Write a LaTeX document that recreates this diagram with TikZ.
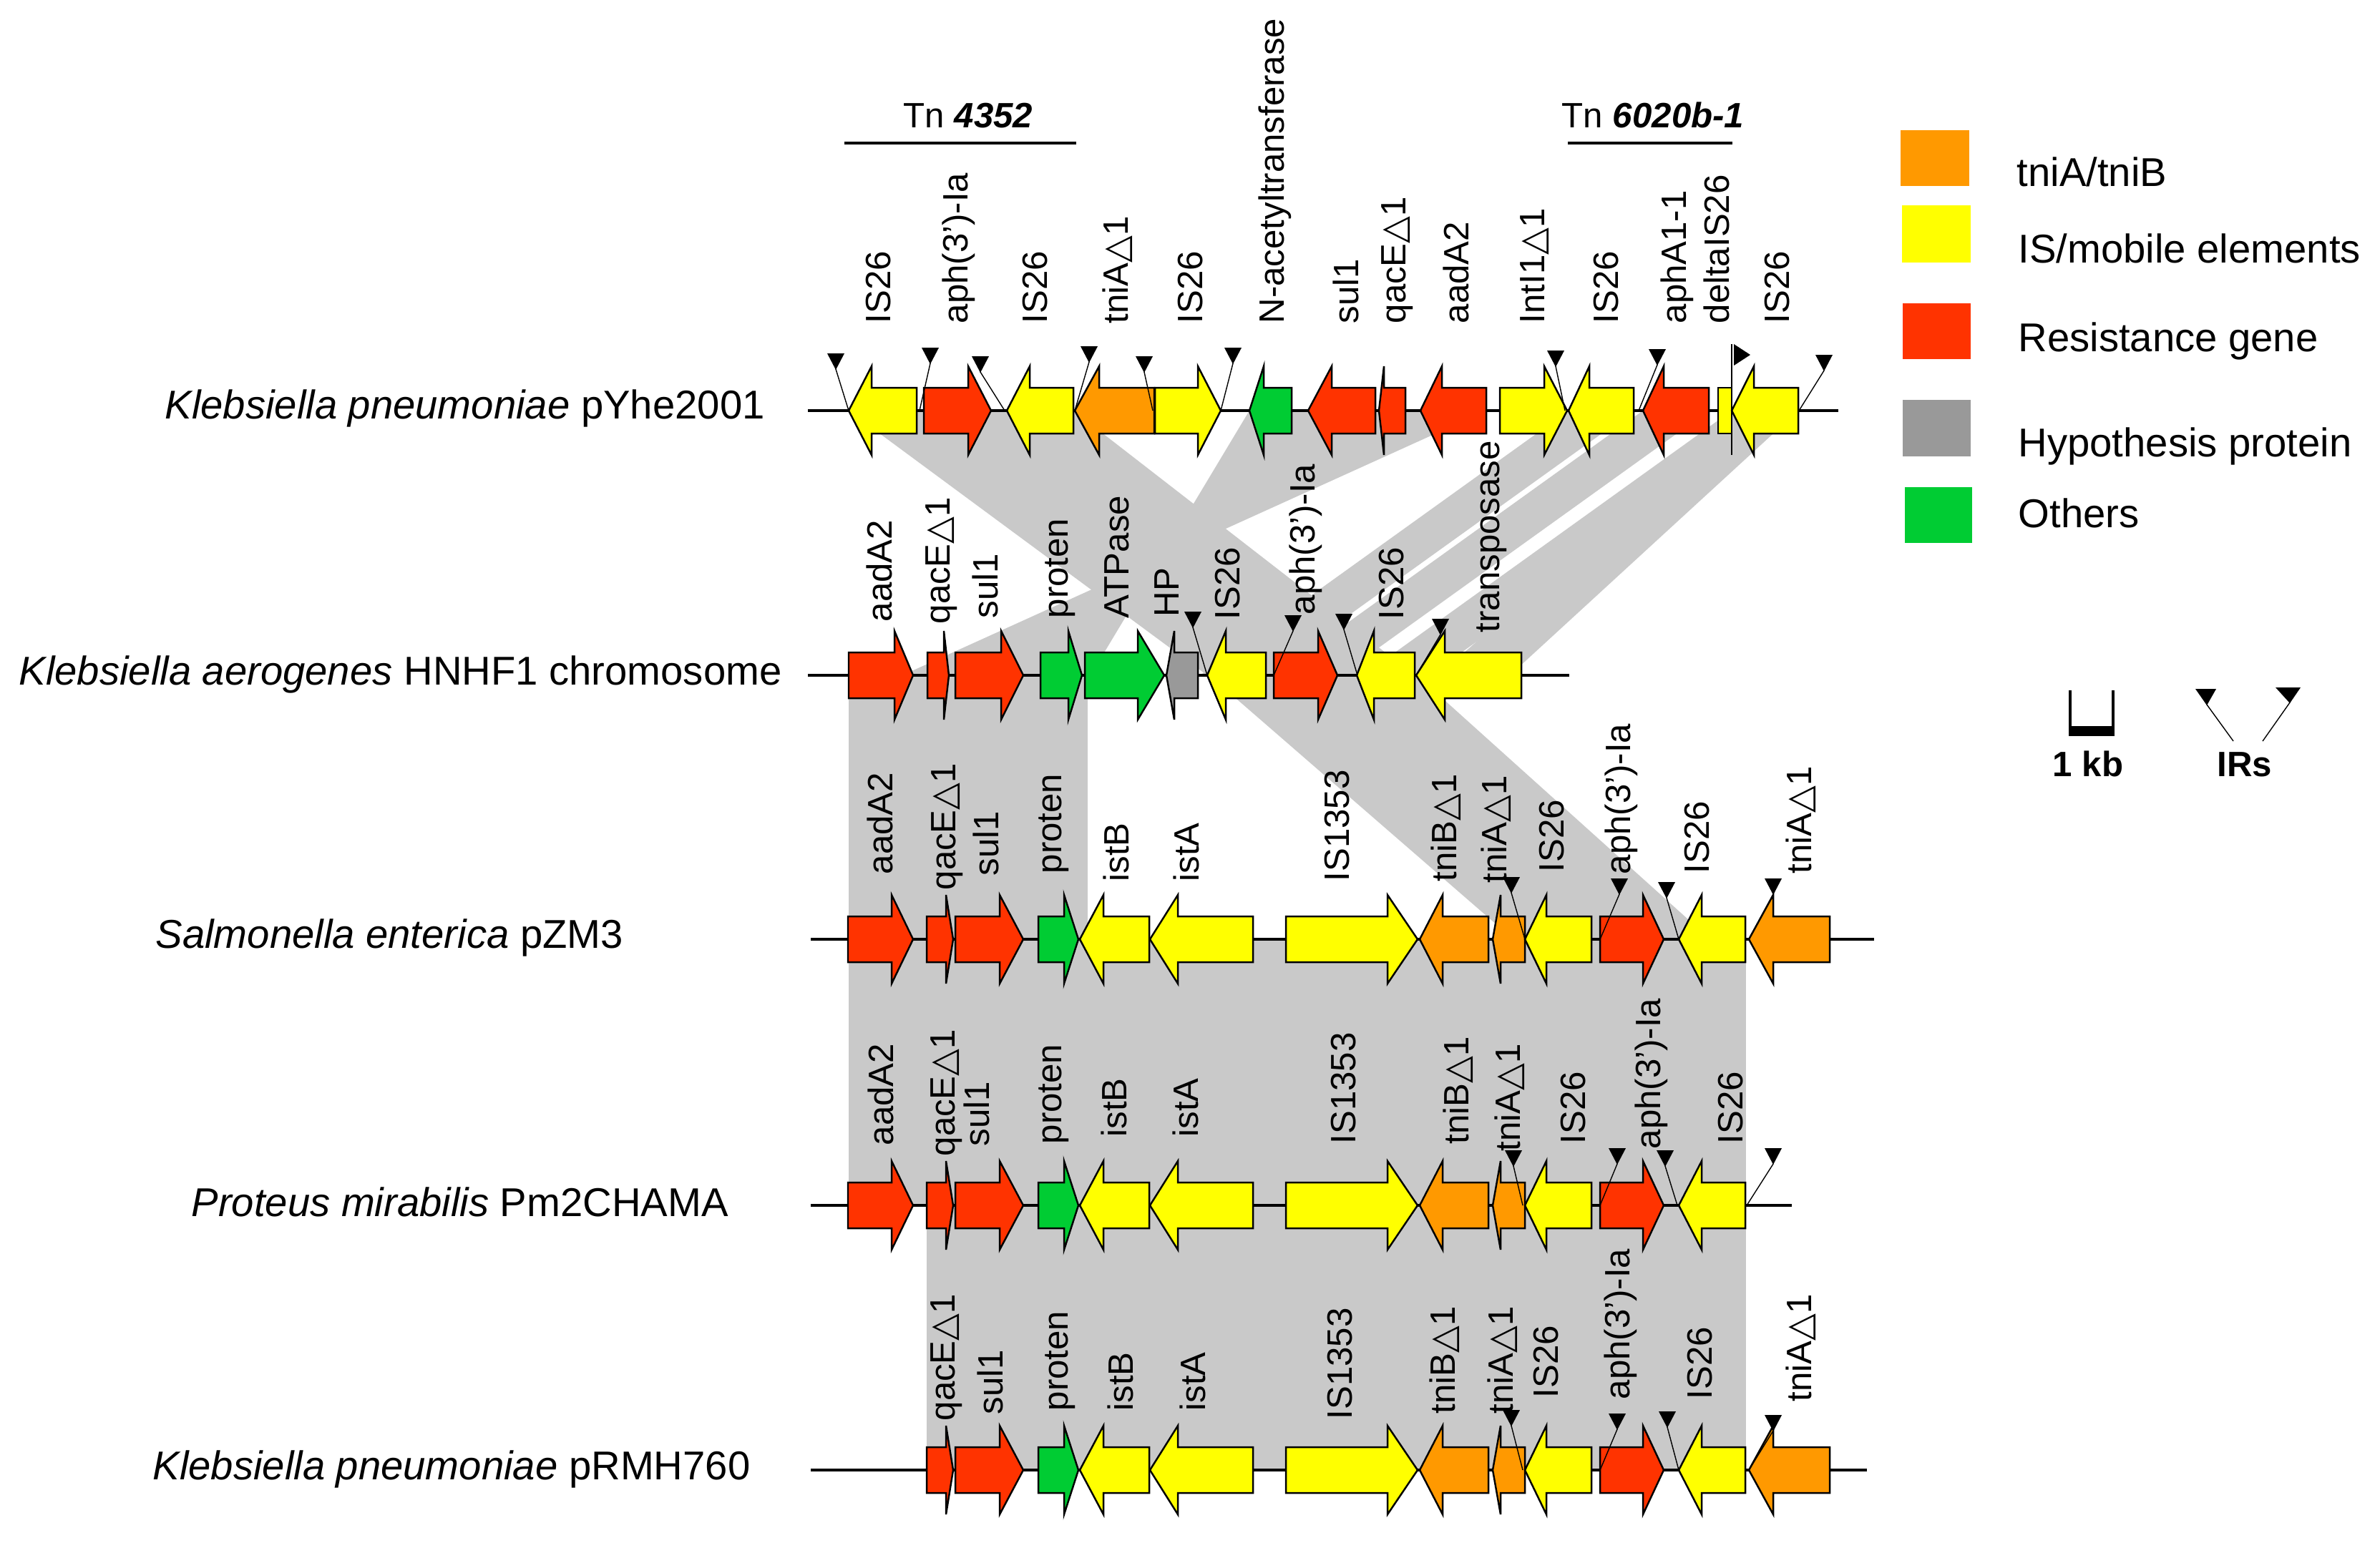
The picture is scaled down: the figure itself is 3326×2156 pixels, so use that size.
\documentclass[tikz,border=0pt]{standalone}
\usepackage{fontspec}
\setmainfont{Liberation Sans}
\newfontfamily\symf{DejaVu Sans}
\newcommand\dtri{{\symf △}}
\definecolor{cO}{HTML}{FF9900}
\definecolor{cY}{HTML}{FFFF00}
\definecolor{cR}{HTML}{FF3300}
\definecolor{cGr}{HTML}{999999}
\definecolor{cG}{HTML}{00CC33}
\definecolor{bandgray}{HTML}{C9C9C9}
\tikzset{
  gene/.style={draw=black,line width=0.7pt,line join=miter},
  band/.style={fill=bandgray,draw=none},
  bb/.style={line width=1.1pt},
  irl/.style={line width=0.4pt},
  glab/.style={font=\fontsize{14}{16}\selectfont,inner sep=0pt,rotate=90,anchor=base west},
  slab/.style={font=\fontsize{16}{19}\selectfont,inner sep=0pt,anchor=base west},
  leglab/.style={font=\fontsize{16}{19}\selectfont,inner sep=0pt,anchor=base west},
  tnlab/.style={font=\fontsize{14}{16}\selectfont,inner sep=0pt,anchor=base},
  boldlab/.style={font=\fontsize{14}{16}\selectfont\bfseries,inner sep=0pt,anchor=base},
}
% right-pointing gene: y, start, head base, tip, colour
\newcommand\geneR[5]{\filldraw[gene,fill=#5] (#2,#1-32) -- (#3,#1-32) -- (#3,#1-62) -- (#4,#1) -- (#3,#1+62) -- (#3,#1+32) -- (#2,#1+32) -- cycle;}
% left-pointing gene: y, tip, head base, end, colour
\newcommand\geneL[5]{\filldraw[gene,fill=#5] (#4,#1-32) -- (#3,#1-32) -- (#3,#1-62) -- (#2,#1) -- (#3,#1+62) -- (#3,#1+32) -- (#4,#1+32) -- cycle;}
% IR marker: base x, base y, apex x, apex y
\newcommand\irmark[4]{\draw[irl] (#1,#2) -- (#3,#4); \fill (#3-12,#4-22) -- (#3+12,#4-22) -- (#3,#4+1) -- cycle;}
% gene label: name, centre x, bottom y, text
\newcommand\genelabel[4]{\node[glab] (#1) at (#2+17,#3) {#4};}
\newcommand\commongenes[1]{%
\geneR{#1}{1295}{1322}{1332}{cR}
\geneR{#1}{1335}{1397}{1430}{cR}
\geneR{#1}{1451}{1487}{1507}{cG}
\geneL{#1}{1509}{1542}{1606}{cY}
\geneL{#1}{1607}{1646}{1751}{cY}
\geneR{#1}{1797}{1939}{1981}{cY}
\geneL{#1}{1984}{2016}{2080}{cO}
\geneL{#1}{2086}{2097}{2131}{cO}
\geneL{#1}{2131}{2161}{2224}{cY}
\geneR{#1}{2236}{2296}{2325}{cR}
\geneL{#1}{2346}{2378}{2439}{cY}}
\begin{document}
\begin{tikzpicture}[x=0.1mm,y=-0.1mm]
\path[use as bounding box] (0,0) rectangle (3326,2156);

% ---------- comparison bands ----------
% row 1 -> row 2
\fill[band] (1186,574) -- (1500,574) -- (1977,944) -- (1687,944) -- cycle;
\fill[band] (1746,574) -- (2077,574) -- (1261,944) -- (1524,944) -- cycle;
\fill[band] (2192,574) -- (2283,574) -- (1768,944) -- (1677,944) -- cycle;
\fill[band] (2296,574) -- (2388,574) -- (1873,944) -- (1781,944) -- cycle;
\fill[band] (2420,574) -- (2513,574) -- (1998,944) -- (1905,944) -- cycle;
\fill[band] (2430,574) -- (2513,574) -- (2110,944) -- (2010,944) -- cycle;
% row 2 -> row 3
\fill[band] (1186,944) -- (1520,944) -- (1520,1313) -- (1186,1313) -- cycle;
\fill[band] (1690,944) -- (1980,944) -- (2390,1313) -- (2115,1313) -- cycle;
% row 3 -> row 4
\fill[band] (1186,1313) rectangle (2440,1685);
% row 4 -> row 5
\fill[band] (1295,1685) rectangle (2440,2055);

% ---------- backbones ----------
\coordinate (r1s) at (1129,574); \coordinate (r1e) at (2569,574);
\coordinate (r2s) at (1129,944); \coordinate (r2e) at (2193,944);
\coordinate (r3s) at (1133,1313); \coordinate (r3e) at (2619,1313);
\coordinate (r4s) at (1133,1685); \coordinate (r4e) at (2504,1685);
\coordinate (r5s) at (1133,2055); \coordinate (r5e) at (2609,2055);
\draw[bb] (r1s) -- (r1e);
\draw[bb] (r2s) -- (r2e);
\draw[bb] (r3s) -- (r3e);
\draw[bb] (r4s) -- (r4e);
\draw[bb] (r5s) -- (r5e);

% ---------- row 1 genes ----------
\geneL{574}{1186}{1218}{1281}{cY}
\geneR{574}{1291}{1353}{1385}{cR}
\geneL{574}{1407}{1439}{1500}{cY}
\geneL{574}{1502}{1536}{1613}{cO}
\geneR{574}{1614}{1674}{1706}{cY}
\geneL{574}{1746}{1766}{1805}{cG}
\geneL{574}{1828}{1861}{1922}{cR}
\geneL{574}{1927}{1934}{1964}{cR}
\geneL{574}{1985}{2015}{2077}{cR}
\geneR{574}{2096}{2158}{2190}{cY}
\geneL{574}{2192}{2221}{2283}{cY}
\geneL{574}{2296}{2325}{2388}{cR}
\filldraw[gene,fill=cY] (2401,542) rectangle (2420,606);
\geneL{574}{2420}{2451}{2513}{cY}

% ---------- row 2 genes ----------
\geneR{944}{1186}{1250}{1276}{cR}
\geneR{944}{1296}{1319}{1326}{cR}
\geneR{944}{1335}{1399}{1430}{cR}
\geneR{944}{1454}{1493}{1512}{cG}
\geneR{944}{1516}{1590}{1627}{cG}
\geneL{944}{1630}{1641}{1674}{cGr}
\geneL{944}{1687}{1713}{1769}{cY}
\geneR{944}{1780}{1842}{1869}{cR}
\geneL{944}{1896}{1920}{1977}{cY}
\geneL{944}{1979}{2019}{2126}{cY}

% ---------- rows 3-5 genes ----------
\geneR{1313}{1185}{1246}{1276}{cR}
\commongenes{1313}
\geneL{1313}{2444}{2478}{2557}{cO}
\geneR{1685}{1185}{1246}{1276}{cR}
\commongenes{1685}
\commongenes{2055}
\geneL{2055}{2444}{2478}{2557}{cO}

% ---------- IRs ----------
\irmark{1186}{574}{1168}{516}
\irmark{1285}{574}{1300}{508}
\irmark{1404}{574}{1370}{520}
\irmark{1502}{574}{1522}{506}
\irmark{1611}{574}{1599}{520}
\irmark{1706}{574}{1723}{508}
\irmark{2187}{574}{2174}{512}
\irmark{2290}{574}{2316}{510}
\draw[irl] (2420,636) -- (2420,481);
\fill (2423,481) -- (2423,511) -- (2446,496) -- cycle;
\irmark{2514}{574}{2549}{518}
\irmark{1687}{944}{1667}{877}
\irmark{1780}{944}{1807}{882}
\irmark{1897}{944}{1878}{880}
\irmark{1979}{944}{2013}{887}
\irmark{2131}{1313}{2112}{1248}
\irmark{2236}{1313}{2263}{1250}
\irmark{2346}{1313}{2329}{1255}
\irmark{2444}{1313}{2478}{1250}
\irmark{2128}{1685}{2115}{1630}
\irmark{2236}{1685}{2260}{1627}
\irmark{2344}{1685}{2327}{1630}
\irmark{2441}{1685}{2478}{1627}
\irmark{2128}{2055}{2112}{1993}
\irmark{2236}{2055}{2260}{1998}
\irmark{2346}{2055}{2330}{1995}
\irmark{2444}{2055}{2478}{2000}

% ---------- gene labels ----------
\genelabel{a1}{1227}{453}{IS26}
\genelabel{a2}{1335}{453}{aph(3')-Ia}
\genelabel{a3}{1446}{453}{IS26}
\genelabel{a4}{1559}{453}{tniA\dtri1}
\genelabel{a5}{1663}{453}{IS26}
\genelabel{a6}{1777}{453}{N-acetyltransferase}
\genelabel{a7}{1881}{453}{sul1}
\genelabel{a8}{1947}{453}{qacE\dtri1}
\genelabel{a9}{2035}{453}{aadA2}
\genelabel{a10}{2141}{453}{IntI1\dtri1}
\genelabel{a11}{2244}{453}{IS26}
\genelabel{a12}{2339}{453}{aphA1-1}
\genelabel{a13}{2399}{453}{deltaIS26}
\genelabel{a14}{2483}{453}{IS26}

\genelabel{b1}{1229}{870}{aadA2}
\genelabel{b2}{1310}{873}{qacE\dtri1}
\genelabel{b3}{1377}{865}{sul1}
\genelabel{b4}{1475}{865}{proten}
\genelabel{b5}{1560}{865}{ATPase}
\genelabel{b6}{1630}{863}{HP}
\genelabel{b7}{1715}{867}{IS26}
\genelabel{b8}{1820}{860}{aph(3')-Ia}
\genelabel{b9}{1944}{867}{IS26}
\genelabel{b10}{2078}{885}{transposase}

\genelabel{c1}{1230}{1223}{aadA2}
\genelabel{c2}{1318}{1245}{qacE\dtri1}
\genelabel{c3}{1378}{1225}{sul1}
\genelabel{c4}{1466}{1222}{proten}
\genelabel{c5}{1560}{1233}{istB}
\genelabel{c6}{1658}{1233}{istA}
\genelabel{c7}{1868}{1233}{IS1353}
\genelabel{c8}{2018}{1233}{tniB\dtri1}
\genelabel{c9}{2088}{1235}{tniA\dtri1}
\genelabel{c10}{2168}{1220}{IS26}
\genelabel{c11}{2261}{1223}{aph(3')-Ia}
\genelabel{c12}{2371}{1222}{IS26}
\genelabel{c13}{2514}{1222}{tniA\dtri1}

\genelabel{d1}{1231}{1602}{aadA2}
\genelabel{d2}{1317}{1617}{qacE\dtri1}
\genelabel{d3}{1365}{1603}{sul1}
\genelabel{d4}{1466}{1600}{proten}
\genelabel{d5}{1557}{1590}{istB}
\genelabel{d6}{1657}{1590}{istA}
\genelabel{d7}{1877}{1600}{IS1353}
\genelabel{d8}{2035}{1600}{tniB\dtri1}
\genelabel{d9}{2107}{1610}{tniA\dtri1}
\genelabel{d10}{2198}{1600}{IS26}
\genelabel{d11}{2303}{1607}{aph(3')-Ia}
\genelabel{d12}{2418}{1600}{IS26}

\genelabel{e2}{1317}{1987}{qacE\dtri1}
\genelabel{e3}{1384}{1978}{sul1}
\genelabel{e4}{1475}{1973}{proten}
\genelabel{e5}{1566}{1973}{istB}
\genelabel{e6}{1667}{1973}{istA}
\genelabel{e7}{1872}{1985}{IS1353}
\genelabel{e8}{2016}{1977}{tniB\dtri1}
\genelabel{e9}{2097}{1977}{tniA\dtri1}
\genelabel{e10}{2160}{1955}{IS26}
\genelabel{e11}{2260}{1957}{aph(3')-Ia}
\genelabel{e12}{2375}{1957}{IS26}
\genelabel{e13}{2514}{1960}{tniA\dtri1}

% ---------- species labels ----------
\node[slab] (sp1) at (230,585) {\textit{Klebsiella pneumoniae} pYhe2001};
\node[slab] (sp2) at (26,957) {\textit{Klebsiella aerogenes} HNHF1 chromosome};
\node[slab] (sp3) at (217,1325) {\textit{Salmonella enterica} pZM3};
\node[slab] (sp4) at (267,1700) {\textit{Proteus mirabilis} Pm2CHAMA};
\node[slab] (sp5) at (213,2068) {\textit{Klebsiella pneumoniae} pRMH760};

% ---------- transposon brackets ----------
\node[tnlab] (tn1) at (1353,178) {Tn \textbf{\textit{4352}}};
\coordinate (tn1a) at (1180,200); \coordinate (tn1b) at (1504,200);
\draw[line width=1pt] (tn1a) -- (tn1b);
\node[tnlab] (tn2) at (2310,178) {Tn \textbf{\textit{6020b-1}}};
\coordinate (tn2a) at (2191,200); \coordinate (tn2b) at (2421,200);
\draw[line width=1pt] (tn2a) -- (tn2b);

% ---------- legend ----------
\fill[cO] (2656,182) rectangle (2752,260);
\fill[cY] (2658,287) rectangle (2754,367);
\fill[cR] (2659,424) rectangle (2754,502);
\fill[cGr] (2659,559) rectangle (2754,638);
\fill[cG] (2662,681) rectangle (2756,759);
\node[leglab] (lg1) at (2818,260) {tniA/tniB};
\node[leglab] (lg2) at (2820,367) {IS/mobile elements};
\node[leglab] (lg3) at (2820,491) {Resistance gene};
\node[leglab] (lg4) at (2820,638) {Hypothesis protein};
\node[leglab] (lg5) at (2820,737) {Others};

% scale bar
\draw[line width=1pt] (2893,965) -- (2893,1027) -- (2953,1027) -- (2953,965);
\fill (2893,1015) rectangle (2953,1028);
\node[boldlab] (kb) at (2918,1085) {1 kb};
% IR legend
\coordinate (irl1) at (3121,1036); \coordinate (irl2) at (3162,1036);
\draw[irl] (irl1) -- (3084,985);
\fill (3068,963) -- (3097,963) -- (3084,986) -- cycle;
\draw[irl] (irl2) -- (3200,982);
\fill (3180,961) -- (3215,961) -- (3200,983) -- cycle;
\node[boldlab] (irs) at (3137,1085) {IRs};
\end{tikzpicture}
\end{document}
